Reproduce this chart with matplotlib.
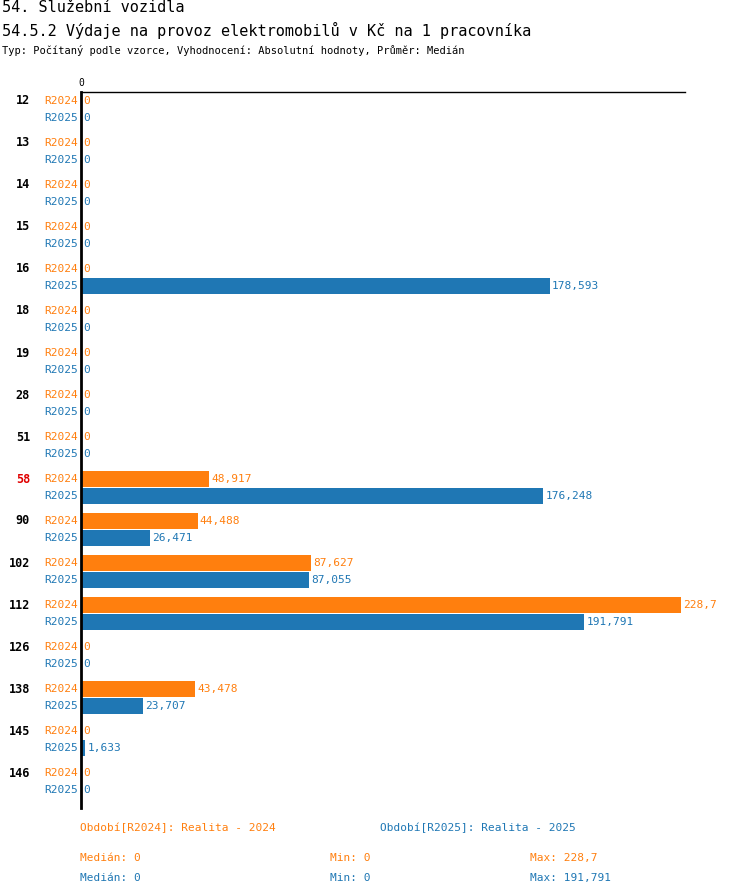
import matplotlib.pyplot as plt

groups = ["12", "13", "14", "15", "16", "18", "19", "28", "51", "58", "90", "102", "112", "126", "138", "145", "146"]
r2024 = [0, 0, 0, 0, 0, 0, 0, 0, 0, 48.917, 44.488, 87.627, 228.7, 0, 43.478, 0, 0]
r2025 = [0, 0, 0, 0, 178.593, 0, 0, 0, 0, 176.248, 26.471, 87.055, 191.791, 0, 23.707, 1.633, 0]
highlight = "58"

ORANGE = "#ff7f0e"
BLUE = "#1f77b4"
plt.rcParams['font.family'] = ['DejaVu Sans Mono']

W, H = 750, 896
fig = plt.figure(figsize=(W / 100, H / 100), dpi=100)
ax_l, ax_r, ax_t, ax_b = 81, 685, 92, 808
ax = fig.add_axes([ax_l / W, 1 - ax_b / H, (ax_r - ax_l) / W, (ax_b - ax_t) / H])
ax.set_xlim(0, 228.7 * (ax_r - ax_l) / 600)
ax.set_ylim(ax_b - ax_t, 0)
for s in ["right", "bottom"]:
    ax.spines[s].set_visible(False)
ax.spines["left"].set_linewidth(2)
ax.spines["top"].set_linewidth(1)
ax.set_yticks([])
ax.xaxis.tick_top()
ax.set_xticks([0])
ax.tick_params(axis="x", length=0, labelsize=7, pad=3)


def fmt(v):
    return "0" if v == 0 else f"{v:g}".replace(".", ",")


def ypx(y):
    return 1 - (y + ax_t) / H


for i, g in enumerate(groups):
    y1 = 9 + 42 * i
    y2 = 26 + 42 * i
    for y, v, c, lab in [(y1, r2024[i], ORANGE, "R2024"), (y2, r2025[i], BLUE, "R2025")]:
        ax.barh(y, v, height=16, color=c)
        ax.text(v + 0.8, y, fmt(v), color=c, fontsize=8, va="center", ha="left")
        fig.text(78 / W, ypx(y), lab, color=c, fontsize=8, va="center", ha="right")
    fig.text(30 / W, ypx(y1), g, fontsize=8.5, weight="bold", va="center", ha="right",
             color="#e00000" if g == highlight else "black")

fig.text(2 / W, 1 - 8 / H, "54. Služební vozidla", fontsize=11, va="center")
fig.text(2 / W, 1 - 30 / H, "54.5.2 Výdaje na provoz elektromobilů v Kč na 1 pracovníka", fontsize=11, va="center")
fig.text(2 / W, 1 - 50 / H, "Typ: Počítaný podle vzorce, Vyhodnocení: Absolutní hodnoty, Průměr: Medián", fontsize=7.5, va="center")

fig.text(80 / W, 1 - 828 / H, "Období[R2024]: Realita - 2024", color=ORANGE, fontsize=8, va="center")
fig.text(380 / W, 1 - 828 / H, "Období[R2025]: Realita - 2025", color=BLUE, fontsize=8, va="center")
for yy, c, vals in [(858, ORANGE, r2024), (878, BLUE, r2025)]:
    fig.text(80 / W, 1 - yy / H, "Medián: 0", color=c, fontsize=8, va="center")
    fig.text(330 / W, 1 - yy / H, f"Min: {fmt(min(vals))}", color=c, fontsize=8, va="center")
    fig.text(530 / W, 1 - yy / H, f"Max: {fmt(max(vals))}", color=c, fontsize=8, va="center")

fig.savefig("out.png", dpi=100)
